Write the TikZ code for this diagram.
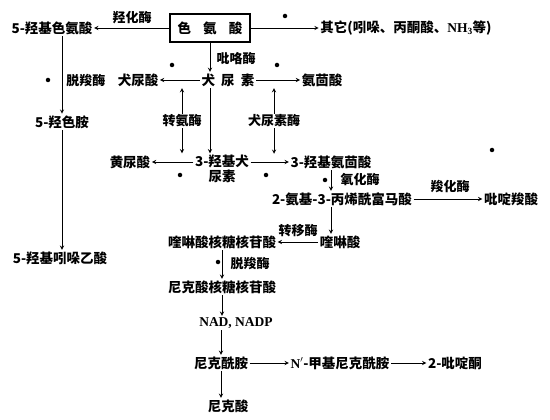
\documentclass[tikz,border=0pt]{standalone}
\usepackage{fontspec}
\newfontfamily\cjk{Noto Sans CJK SC}
\newfontfamily\lat{Liberation Serif}
\begin{document}
\begin{tikzpicture}[x=1pt, y=-1pt, >=stealth,
  every node/.style={font=\cjk\bfseries\fontsize{13.5}{15}\selectfont, inner sep=1.5pt},
  enz/.style={font=\cjk\bfseries\fontsize{13}{15}\selectfont, inner sep=1pt},
  dot/.style={circle, fill, inner sep=0pt, minimum size=4.5pt},
  flow/.style={->, line width=0.9pt}]
  \useasboundingbox (0,0) rectangle (550,420);
  \node[draw, line width=1.3pt, minimum width=80pt, minimum height=28pt] (trp) at (210,28) {色\hspace{0.9em}氨\hspace{0.9em}酸};
  \node (ht) at (52,28) {5-羟基色氨酸};
  \node (other) at (406,28) {其它(吲哚、丙酮酸、{\lat\bfseries NH\textsubscript{3}}等)};
  \node (kyn) at (228,80) {犬\hspace{0.45em}尿\hspace{0.45em}素};
  \node (kyna) at (138,80) {犬尿酸};
  \node (anth) at (322,80) {氨茴酸};
  \node (st) at (62,122) {5-羟色胺};
  \node (hiaa) at (60,258) {5-羟基吲哚乙酸};
  \node (xa) at (130,162) {黄尿酸};
  \node[align=center] (hk) at (222,169) {3-羟基犬\\尿素};
  \node (hak) at (331,162) {3-羟基氨茴酸};
  \node (acms) at (342,199) {2-氨基-3-丙烯酰富马酸};
  \node (pic) at (511,199) {吡啶羧酸};
  \node (qa) at (340,242) {喹啉酸};
  \node (qamn) at (222,242) {喹啉酸核糖核苷酸};
  \node (namn) at (222,287) {尼克酸核糖核苷酸};
  \node (nad) at (236,323) {\lat\bfseries NAD, NADP};
  \node (nam) at (221,363) {尼克酰胺};
  \node (mnam) at (340,363) {{\lat\bfseries N$'$}-甲基尼克酰胺};
  \node (pyr) at (455,363) {2-吡啶酮};
  \node (na) at (228,406) {尼克酸};

  \node[enz] (hyd) at (132,18) {羟化酶};
  \node[enz] (pyrr) at (236,59) {吡咯酶};
  \node[enz] (dec1) at (86,80) {脱羧酶};
  \node[enz] (tam) at (182,121) {转氨酶};
  \node[enz] (kynu) at (274,121) {犬尿素酶};
  \node[enz] (oxi) at (360,180) {氧化酶};
  \node[enz] (carb) at (450,186) {羧化酶};
  \node[enz] (tra) at (298,231) {转移酶};
  \node[enz] (dec2) at (250,263) {脱羧酶};

  \node[dot] (d1) at (285,16) {};
  \node[dot] (d2) at (172,65) {};
  \node[dot] (d3) at (277,65) {};
  \node[dot] (d4) at (48,80) {};
  \node[dot] (d5) at (180,175) {};
  \node[dot] (d6) at (266,175) {};
  \node[dot] (d7) at (325,180) {};
  \node[dot] (d8) at (492,150) {};
  \node[dot] (d9) at (218,262) {};

  \draw[flow] (trp.west) -- (ht.east);
  \draw[flow] (trp.east) -- (other.west);
  \draw[flow] (trp.south) -- (kyn.north -| trp.south);
  \draw[flow] (kyn.west) -- (kyna.east);
  \draw[flow] (kyn.east) -- (anth.west);
  \draw[flow] (kyn.south -| trp.south) -- (hk.north -| trp.south);
  \draw[flow, <-] (kyn.south -| tam) -- (tam.north);
  \draw[flow] (tam.south) -- (hk.north -| tam);
  \draw[flow, <-] (kyn.south -| kynu) -- (kynu.north);
  \draw[flow] (kynu.south) -- (hak.north -| kynu);
  \draw[flow] (ht.south -| st) -- (st.north);
  \draw[flow] (st.south) -- (hiaa.north -| st);
  \draw[flow] (hk.west |- xa.east) -- (xa.east);
  \draw[flow] (hk.east |- hak.west) -- (hak.west);
  \draw[flow] (hak.south) -- (acms.north -| hak.south);
  \draw[flow] (acms.east) -- (pic.west);
  \draw[flow] (acms.south -| hak.south) -- (qa.north -| hak.south);
  \draw[flow] (qa.west) -- (qamn.east);
  \draw[flow] (qamn.south) -- (namn.north);
  \draw[flow] (namn.south) -- (nad.north -| namn.south);
  \draw[flow] (nad.south -| nam) -- (nam.north);
  \draw[flow] (nam.east) -- (mnam.west);
  \draw[flow] (mnam.east) -- (pyr.west);
  \draw[flow] (nam.south) -- (na.north -| nam.south);
\end{tikzpicture}
\end{document}
